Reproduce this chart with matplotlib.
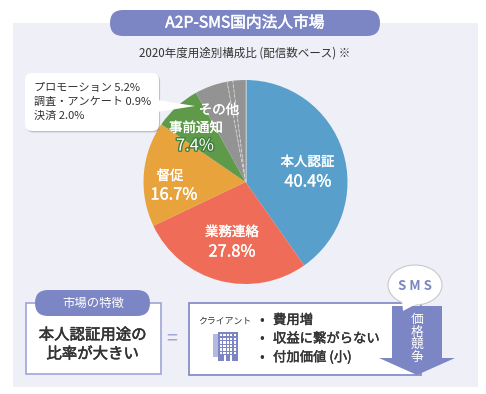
import matplotlib
matplotlib.use('Agg')
import matplotlib.pyplot as plt
import matplotlib.patheffects as pe
from matplotlib.patches import FancyBboxPatch, Rectangle, Polygon, Ellipse
import numpy as np

plt.rcParams['font.family'] = ['Noto Sans CJK JP', 'DejaVu Sans']

# data
names = ['本人認証', '業務連絡', '督促', '事前通知', 'プロモーション', '調査・アンケート', '決済']
values = [40.4, 27.8, 16.7, 7.4, 5.2, 0.9, 2.0]
colors = ['#58A0CB', '#EE6C58', '#E8A33D', '#5E9A4A', '#939393', '#939393', '#939393']
merits = ['費用増', '収益に繋がらない', '付加価値 (小)']

W, H = 486, 394
PURPLE = '#7C86C4'
DARK = '#333333'

fig = plt.figure(figsize=(W / 100, H / 100), dpi=100, facecolor='white')

def pixel_axes(z):
    a = fig.add_axes([0, 0, 1, 1], zorder=z)
    a.set_xlim(0, W)
    a.set_ylim(H, 0)
    a.axis('off')
    a.patch.set_alpha(0)
    return a

def pill(a, x0, y0, x1, y1, color):
    r = (y1 - y0) / 2
    a.add_patch(FancyBboxPatch((x0 + r, y0 + r), x1 - x0 - 2 * r, 0.01,
                               boxstyle='round,pad=%f,rounding_size=%f' % (r, r),
                               fc=color, ec='none'))

# thickens the thin CJK strokes a little
def heavy(color, w=0.35):
    return [pe.withStroke(linewidth=w, foreground=color)]

bg = pixel_axes(0)
bg.add_patch(Rectangle((13, 23), 465, 364, fc='#EFF0F7', ec='none'))

# pie
cx, cy, rad = 245.5, 182, 102
pie_ax = fig.add_axes([(cx - rad) / W, 1 - (cy + rad) / H, 2 * rad / W, 2 * rad / H], zorder=1)
wedges, _ = pie_ax.pie(values, colors=colors, startangle=90, counterclock=False, radius=1,
                       wedgeprops=dict(linewidth=0))
pie_ax.set_xlim(-1, 1)
pie_ax.set_ylim(-1, 1)
# dashed dividers inside the grey part
total = sum(values)
acc = np.cumsum(values)
for v in acc[4:6]:
    t = np.pi / 2 - 2 * np.pi * v / total
    pie_ax.plot([0, np.cos(t)], [0, np.sin(t)], color='#D8D8D8', lw=0.6, ls=(0, (4, 2)))
pie_ax.plot([0, 0], [0, 1], color='#D8D8D8', lw=0.5)

ax = pixel_axes(2)

# title
pill(ax, 110, 10, 380, 36, PURPLE)
ax.text(245, 23, 'A2P-SMS国内法人市場', color='white', fontsize=11.3, ha='center', va='center',
        path_effects=heavy('white'))
ax.text(244.5, 53, '2020年度用途別構成比 (配信数ベース) ※', color=DARK, fontsize=8.3, ha='center', va='center')

# pie labels
lab = dict(color='white', ha='center', va='center')
ax.text(307.5, 162, names[0], fontsize=9.7, path_effects=heavy('white', 0.25), **lab)
ax.text(308, 182, '%.1f%%' % values[0], fontsize=11.8, path_effects=heavy('white', 0.25), **lab)
ax.text(232, 232, names[1], fontsize=9.7, path_effects=heavy('white', 0.25), **lab)
ax.text(232, 252, '%.1f%%' % values[1], fontsize=11.8, path_effects=heavy('white', 0.25), **lab)
ax.text(170, 176, names[2], fontsize=9.7, path_effects=heavy('white', 0.25), **lab)
ax.text(174, 195, '%.1f%%' % values[2], fontsize=11.8, path_effects=heavy('white', 0.25), **lab)
ax.text(196, 128, names[3], fontsize=9.7, path_effects=heavy('white', 0.25), **lab)
ax.text(195, 146, '%.1f%%' % values[3], fontsize=11.8,
        path_effects=[pe.withStroke(linewidth=2, foreground='#3F7F3A')], **lab)
ax.text(219, 110, 'その他', fontsize=9.7, path_effects=heavy('white', 0.25), **lab)

# callout
shadow = [pe.SimplePatchShadow(offset=(0.8, -1), alpha=0.3, shadow_rgbFace='#555555'), pe.Normal()]
ax.add_patch(FancyBboxPatch((31, 79), 122, 46, boxstyle='round,pad=6,rounding_size=7',
                            fc='white', ec='none', path_effects=shadow))
ax.add_patch(Polygon([(157, 100), (195, 106), (157, 112)], fc='white', ec='none'))
for i, k in enumerate([4, 5, 6]):
    ax.text(34, 87.5 + i * 14.2, '%s %.1f%%' % (names[k], values[k]), color=DARK, fontsize=8,
            ha='left', va='center')

# bottom left box
ax.add_patch(Rectangle((25.5, 302.5), 135, 71, fc='white', ec='#9FA6D8', lw=1.2))
pill(ax, 35, 290, 150, 316, PURPLE)
ax.text(93, 303, '市場の特徴', color='white', fontsize=8.9, ha='center', va='center')
ax.text(92.5, 335, '本人認証用途の', color=DARK, fontsize=11.1, ha='center', va='center',
        path_effects=heavy(DARK, 0.4))
ax.text(92.5, 354, '比率が大きい', color=DARK, fontsize=11.1, ha='center', va='center',
        path_effects=heavy(DARK, 0.4))
ax.text(172, 339, '=', color='#9FA6D8', fontsize=14, ha='center', va='center')

# bottom right box
ax.add_patch(Rectangle((188.5, 302.5), 232, 72, fc='white', ec='#7C86C4', lw=1.2))
ax.text(225, 321, 'クライアント', color=DARK, fontsize=6.4, ha='center', va='center')
for i, m in enumerate(merits):
    y = 320 + i * 18.5
    ax.text(262, y, '•', color=DARK, fontsize=10, ha='center', va='center')
    ax.text(273, y, m, color=DARK, fontsize=9.6, ha='left', va='center', path_effects=heavy(DARK, 0.3))

# building icon
ax.add_patch(Rectangle((218, 332), 20, 29, fc='#7C86C4', ec='none'))
ax.add_patch(Rectangle((213, 334), 5, 23, fc='#B4BADF', ec='none'))
for i in range(6):
    for j in range(5):
        ax.add_patch(Rectangle((220 + j * 3.4, 334 + i * 3.6), 2.2, 2.3, fc='white', ec='none'))
for j in range(2):
    ax.add_patch(Rectangle((223.5 + j * 6, 355), 2, 6, fc='white', ec='none'))

# arrow
ax.add_patch(Polygon([(392, 306), (442, 306), (442, 358), (455, 358), (417, 375), (379, 358), (392, 358)],
                     fc=PURPLE, ec='none'))
for i, ch in enumerate('価格競争'):
    ax.text(417, 320 + i * 37 / 3, ch, color='white', fontsize=9.2, ha='center', va='center')

# sms bubble
ax.add_patch(Ellipse((415, 285), 54, 40, fc='white', ec='#C8C8C8', lw=0.8))
ax.add_patch(Polygon([(402, 300), (403, 311), (418, 303)], fc='white', ec='none'))
ax.text(415, 286, 'S M S', color=PURPLE, fontsize=9.5, ha='center', va='center', fontweight='bold')

fig.savefig('out.png', dpi=100)
